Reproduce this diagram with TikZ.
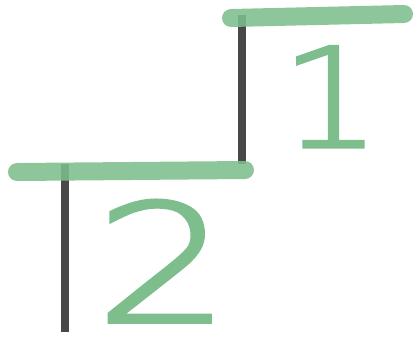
\documentclass[tikz,border=0pt]{standalone}
\usepackage{fontspec}
\newfontfamily\digitfont[FakeBold=2.2]{DejaVu Sans ExtraLight}
\definecolor{penGreen}{RGB}{125,190,140}
\definecolor{penDark}{RGB}{72,72,72}
\begin{document}
\begin{tikzpicture}[x=1pt,y=-1pt,
  bar/.style={line width=18pt, line cap=round, draw=penGreen, opacity=0.88},
  post/.style={line width=8pt, draw=penDark},
  digit/.style={text=penGreen, inner sep=0pt, anchor=base, text depth=0pt}]
\useasboundingbox (0,0) rectangle (415,338);
% dark posts
\draw[post] (242,15) -- (242,164);
\draw[post] (65,164) -- (65,332);
% green steps
\draw[bar] (231,18) -- (404,14);
\draw[bar] (17,172) -- (245,170);
% digits
\node[digit, text height=102pt, font=\digitfont\fontsize{138}{138}\selectfont, xscale=1.15] (one) at (331,147) {1};
\node[digit, text height=120pt, font=\digitfont\fontsize{164}{164}\selectfont, xscale=1.3] (two) at (163,322) {2};
\end{tikzpicture}
\end{document}
